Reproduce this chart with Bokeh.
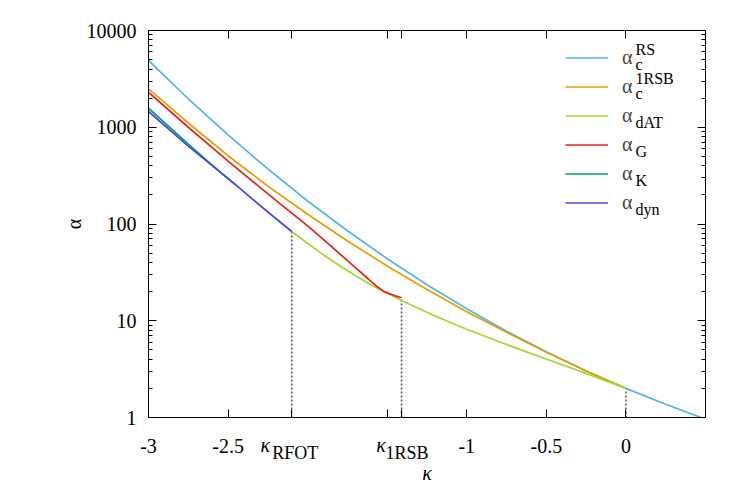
from bokeh.plotting import figure
from bokeh.models import FixedTicker, LinearAxis, LogAxis, Label, Legend, LegendItem
from bokeh.embed import file_html
from bokeh.resources import INLINE

FONT = "Liberation Serif"

# ---- data ----
kappa_rs = [-3.0, -2.75, -2.5, -2.25, -2.0, -1.75, -1.5, -1.25, -1.0, -0.75, -0.5, -0.25, 0.0, 0.25, 0.5]
alpha_rs = [4900, 1970, 833, 371, 173, 85.1, 43.8, 23.6, 13.3, 7.80, 4.77, 3.03, 2.0, 1.37, 0.96]

kappa_1rsb = [-3.0, -2.75, -2.5, -2.25, -2.0, -1.75, -1.5, -1.25, -1.0, -0.75, -0.5, -0.25, 0.0]
alpha_1rsb = [2497, 1107, 508, 246, 126, 66.8, 36.8, 21.0, 12.4, 7.59, 4.73, 3.03, 2.0]

kappa_dat = [-2.1, -2.0, -1.9, -1.8, -1.7, -1.6, -1.5, -1.41, -1.2, -1.0, -0.8, -0.6, -0.4, -0.2, 0.0]
alpha_dat = [83.6, 62.8, 47.9, 37.2, 29.4, 23.4, 19.3, 16.2, 11.2, 8.17, 6.10, 4.60, 3.51, 2.66, 2.0]

kappa_g = [-3.0, -2.75, -2.5, -2.25, -2.0, -1.9, -1.83, -1.76, -1.70, -1.64, -1.60, -1.56, -1.52, -1.48, -1.45, -1.41]
alpha_g = [2303, 1000, 447, 205, 95.5, 68.9, 54.6, 43.3, 35.4, 29.0, 25.4, 22.3, 20.0, 18.9, 18.1, 17.3]

kappa_k = [-3.0, -2.75, -2.6, -2.45]
alpha_k = [1573, 670, 406, 252]

kappa_dyn = [-3.0, -2.75, -2.5, -2.45, -2.25, -2.1]
alpha_dyn = [1455, 638, 294, 252, 133, 83.6]

x_ticks = [-3.0, -2.5, -1.0, -0.5, 0.0]
x_tick_labels = ["-3", "-2.5", "-1", "-0.5", "0"]
x_extra_ticks = [-2.1, -1.5, -1.41]
kappa_tick_subs = ["RFOT", "1RSB"]
y_ticks = [1, 10, 100, 1000, 10000]
y_tick_labels = ["1", "10", "100", "1000", "10000"]
y_minor = [m * d for d in [1, 10, 100, 1000] for m in range(2, 10)]

series_names = [("c", "RS"), ("c", "1RSB"), ("dAT", None), ("G", None), ("K", None), ("dyn", None)]
colors = ["#56B4E9", "#E69F00", "#A4D830", "#E8231A", "#009E73", "#4646E6"]

KAPPA_RFOT = kappa_dyn[-1]
KAPPA_1RSB = kappa_g[-1]
X0, X1 = -3.0, 0.5

W, H = 739, 490
BL, BR, BT, BB = 148, 34, 30, 73
PX = (W - BL - BR) / (X1 - X0)   # pixels per unit of kappa, used only to offset text

p = figure(width=W, height=H, x_range=(X0, X1), y_range=(1, 10000),
           y_axis_type="log", output_backend="svg", toolbar_location=None,
           min_border_left=BL, min_border_right=BR, min_border_top=BT, min_border_bottom=BB)
p.xgrid.visible = False
p.ygrid.visible = False
p.outline_line_color = "black"
p.outline_line_width = 1
p.background_fill_color = "white"

xt = FixedTicker(ticks=x_ticks, minor_ticks=x_extra_ticks)
yt = FixedTicker(ticks=y_ticks, minor_ticks=y_minor)

def style(ax, minor_len):
    ax.axis_line_color = "black"
    ax.major_tick_line_color = "black"
    ax.minor_tick_line_color = "black"
    ax.major_tick_in = 8
    ax.major_tick_out = 0
    ax.minor_tick_in = minor_len
    ax.minor_tick_out = 0
    ax.major_label_text_font = FONT
    ax.major_label_text_font_size = "20px"
    ax.major_label_text_color = "black"
    ax.axis_label_text_font = FONT
    ax.axis_label_text_font_size = "20px"
    ax.axis_label_text_color = "black"

def bare(ax):
    ax.axis_line_color = None
    ax.major_tick_line_color = None
    ax.minor_tick_line_color = None
    ax.major_tick_in = 0
    ax.major_tick_out = 0
    ax.minor_tick_in = 0
    ax.minor_tick_out = 0
    ax.major_label_text_font = FONT
    ax.major_label_text_color = "black"
    ax.axis_label_text_font = FONT
    ax.axis_label_text_color = "black"

xa = p.xaxis[0]
xa.ticker = xt
style(xa, 8)
xa.major_label_overrides = dict(zip(x_ticks, x_tick_labels))
xa.major_label_standoff = 21

ya = p.yaxis[0]
ya.ticker = yt
style(ya, 4)
ya.major_label_overrides = dict(zip(y_ticks, y_tick_labels))
ya.major_label_standoff = 12
ya.axis_label = "α"
ya.axis_label_text_font_style = "normal"
ya.axis_label_text_font_size = "20px"
ya.axis_label_standoff = -1

# kappa tick labels: "κ" glyphs and their subscripts, as label-only axes
k_pos = [KAPPA_RFOT - 26.5 / PX, KAPPA_1RSB - 20.5 / PX]
s_pos = [KAPPA_RFOT + 3.5 / PX, KAPPA_1RSB + 5.5 / PX]

ka = LinearAxis(ticker=FixedTicker(ticks=k_pos, minor_ticks=[]))
bare(ka)
ka.major_label_overrides = {k: "κ" for k in k_pos}
ka.major_label_text_font_size = "20px"
ka.major_label_text_font_style = "italic"
ka.major_label_standoff = -22
p.add_layout(ka, "below")

sa = LinearAxis(ticker=FixedTicker(ticks=s_pos, minor_ticks=[]))
bare(sa)
sa.major_label_overrides = dict(zip(s_pos, kappa_tick_subs))
sa.major_label_text_font_size = "18px"
sa.major_label_standoff = -16
sa.axis_label = "κ"
sa.axis_label_text_font_size = "20px"
sa.axis_label_text_font_style = "italic"
sa.axis_label_standoff = -4
p.add_layout(sa, "below")

# mirrored tick marks (labels not drawn)
top = LinearAxis(ticker=xt)
style(top, 8)
top.major_label_text_font_size = "8px"
top.major_label_text_color = None
top.major_label_standoff = 0
p.add_layout(top, "above")

right = LogAxis(ticker=yt)
style(right, 4)
right.major_label_text_font_size = "8px"
right.major_label_text_color = None
right.major_label_standoff = 0
p.add_layout(right, "right")

# dotted markers
p.segment(x0=[KAPPA_RFOT, KAPPA_1RSB, kappa_dat[-1]], y0=[1, 1, 1],
          x1=[KAPPA_RFOT, KAPPA_1RSB, kappa_dat[-1]], y1=[alpha_dyn[-1], alpha_g[-1], alpha_dat[-1]],
          line_color="#505050", line_width=1.5, line_dash="2 2")

data = [(kappa_rs, alpha_rs), (kappa_1rsb, alpha_1rsb), (kappa_dat, alpha_dat),
        (kappa_g, alpha_g), (kappa_k, alpha_k), (kappa_dyn, alpha_dyn)]
items = []
for (kx, ay), c in zip(data, colors):
    r = p.line(kx, ay, line_color=c, line_width=1.7)
    items.append(LegendItem(label="α", renderers=[r]))

ITEM_H = 29
leg = Legend(items=items, location=(417, 200), padding=0, margin=0, spacing=0,
             glyph_width=43, glyph_height=ITEM_H, label_height=ITEM_H, label_standoff=14,
             label_text_font=FONT, label_text_font_size="20px",
             border_line_color=None, background_fill_alpha=0)
p.add_layout(leg)

# legend sub/superscripts
top_y = 200 + len(items) * ITEM_H
for i, (sub, sup) in enumerate(series_names):
    yc = top_y - ITEM_H * i - ITEM_H / 2
    p.add_layout(Label(x=487, y=yc - 6.5, x_units="screen", y_units="screen", text=sub,
                       text_font=FONT, text_font_size="16px", text_baseline="middle",
                       text_align="left", text_color="black"))
    if sup:
        p.add_layout(Label(x=487, y=yc + 8.5, x_units="screen", y_units="screen", text=sup,
                           text_font=FONT, text_font_size="16px", text_baseline="middle",
                           text_align="left", text_color="black"))

open("out.html", "w").write(file_html(p, INLINE))
